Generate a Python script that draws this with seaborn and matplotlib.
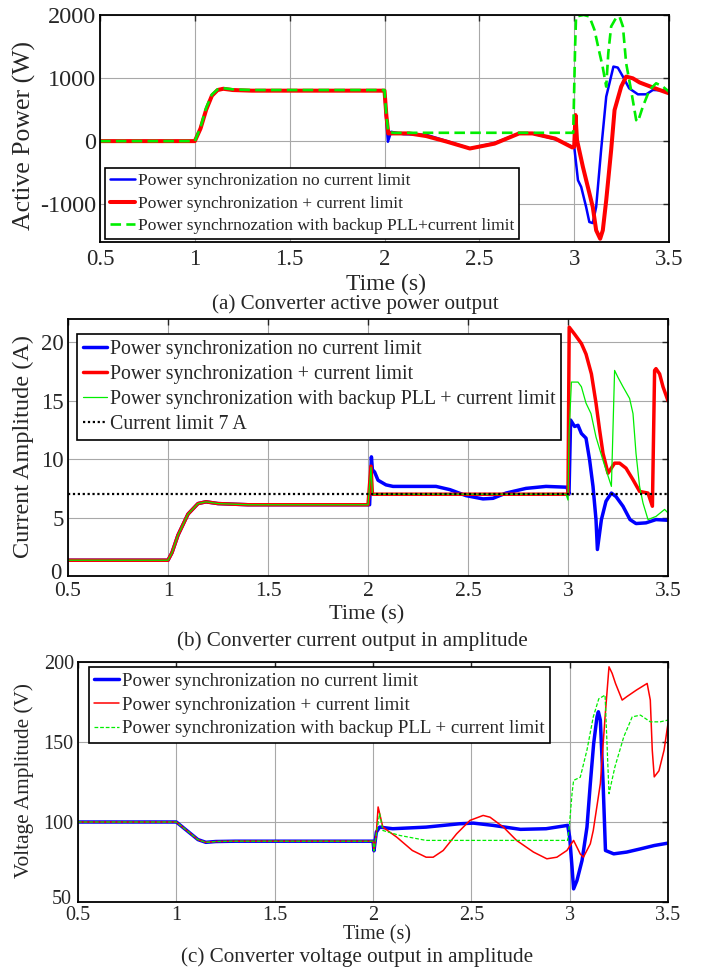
import matplotlib
matplotlib.use("Agg")
import matplotlib.pyplot as plt
import matplotlib.transforms as mtransforms
import seaborn as sns
import pandas as pd

# ---------------- (a) active power (W) ----------------
ta_blue = [0.5, 1.0, 1.03, 1.06, 1.09, 1.12, 1.15, 1.2, 1.3, 2.0, 2.005, 2.018, 2.035, 2.1, 2.22, 2.33,
           2.45, 2.58, 2.71, 2.78, 2.9, 2.99, 3.0, 3.02, 3.037, 3.063, 3.08, 3.098, 3.116, 3.142, 3.169,
           3.186, 3.207, 3.23, 3.257, 3.29, 3.336, 3.38, 3.415, 3.5]
pa_blue = [0, 0, 200, 500, 720, 810, 830, 810, 800, 800, 500, -10, 148, 110, 100, 0,
           -117, -30, 122, 122, 30, -90, -80, -620, -726, -1044, -1283, -1300, -1044, -143, 705,
           917, 1182, 1166, 1023, 837, 742, 742, 811, 800]

ta_red = [0.5, 1.0, 1.03, 1.06, 1.09, 1.12, 1.15, 1.2, 1.3, 2.0, 2.01, 2.02, 2.13, 2.22, 2.33, 2.45,
          2.58, 2.71, 2.78, 2.9, 2.99, 3.0, 3.007, 3.015, 3.046, 3.072, 3.098, 3.116, 3.137, 3.151,
          3.169, 3.195, 3.213, 3.248, 3.274, 3.309, 3.345, 3.38, 3.45, 3.5]
pa_red = [0, 0, 200, 500, 720, 810, 830, 810, 800, 800, 400, 122, 122, 80, -10, -117,
          -40, 122, 122, 40, -100, -90, 413, 16, -408, -726, -1044, -1415, -1548, -1415,
          -938, -143, 493, 864, 1023, 996, 930, 890, 811, 758]

ta_green = [0.5, 1.0, 1.03, 1.06, 1.09, 1.12, 1.15, 1.2, 1.3, 2.0, 2.01, 2.02, 2.05, 2.2, 2.5, 2.8,
            2.995, 3.005, 3.01, 3.05, 3.08, 3.107, 3.13, 3.15, 3.169, 3.18, 3.195, 3.22, 3.239, 3.257,
            3.274, 3.30, 3.327, 3.336, 3.362, 3.397, 3.432, 3.465, 3.5]
pa_green = [0, 0, 220, 530, 740, 820, 840, 820, 810, 810, 400, 148, 130, 132, 132, 132,
            132, 1500, 1977, 2000, 1977, 1765, 1447, 1182, 864, 1400, 1818, 1950, 1977, 1818,
            1235, 811, 334, 307, 546, 811, 917, 870, 784]

# ---------------- (b) current amplitude (A) ----------------
tb_blue = [0.5, 1.0, 1.02, 1.05, 1.1, 1.15, 1.19, 1.25, 1.4, 2.0, 2.008, 2.017, 2.022, 2.033, 2.05,
           2.09, 2.125, 2.29, 2.34, 2.41, 2.49, 2.575, 2.625, 2.69, 2.79, 2.89, 2.995, 3.005, 3.013,
           3.033, 3.05, 3.067, 3.09, 3.108, 3.125, 3.14, 3.147, 3.167, 3.19, 3.217, 3.24, 3.275,
           3.31, 3.34, 3.39, 3.44, 3.5]
ib_blue = [1.35, 1.35, 2.0, 3.5, 5.3, 6.2, 6.35, 6.2, 6.1, 6.1, 6.1, 10.2, 9.1, 8.9, 8.2,
           7.8, 7.67, 7.67, 7.67, 7.39, 6.88, 6.6, 6.65, 7.1, 7.5, 7.67, 7.6, 7.0, 13.35,
           12.8, 12.9, 12.2, 11.8, 9.94, 7.67, 4.83, 2.27, 4.83, 6.4, 7.1, 6.8, 5.97,
           4.83, 4.49, 4.55, 4.83, 4.77]

tb_red = [0.5, 1.0, 1.02, 1.05, 1.1, 1.15, 1.19, 1.25, 1.4, 2.0, 2.015, 2.022, 2.03, 2.04, 3.0,
          3.006, 3.033, 3.067, 3.09, 3.117, 3.14, 3.158, 3.175, 3.2, 3.233, 3.258, 3.29, 3.325,
          3.358, 3.4, 3.422, 3.433, 3.44, 3.458, 3.475, 3.5]
ib_red = [1.35, 1.35, 2.0, 3.5, 5.3, 6.2, 6.35, 6.2, 6.1, 6.1, 9.4, 7.0, 7.0, 7.0, 7.0,
          21.3, 20.7, 19.9, 19.0, 17.3, 14.8, 12.5, 10.5, 8.8, 9.66, 9.66, 9.23, 8.24,
          7.24, 7.1, 5.97, 17.6, 17.75, 17.3, 16.2, 15.0]

tb_green = [0.5, 1.0, 1.02, 1.05, 1.1, 1.15, 1.19, 1.25, 1.4, 2.0, 2.015, 2.022, 2.03, 2.99, 3.0,
            3.005, 3.017, 3.05, 3.067, 3.09, 3.115, 3.14, 3.175, 3.217, 3.233, 3.25, 3.275, 3.308,
            3.325, 3.34, 3.358, 3.375, 3.4, 3.44, 3.483, 3.5]
ib_green = [1.35, 1.35, 2.0, 3.5, 5.3, 6.2, 6.35, 6.2, 6.1, 6.1, 9.3, 7.0, 7.0, 7.0, 6.5,
            12.0, 16.6, 16.6, 16.2, 14.8, 13.9, 11.9, 9.9, 7.67, 17.6, 17.0, 16.2, 15.2,
            13.9, 10.5, 7.67, 6.25, 4.83, 5.1, 5.7, 5.4]

i_limit = 7.0

# ---------------- (c) voltage amplitude (V) ----------------
tc_blue = [0.5, 1.0, 1.03, 1.07, 1.11, 1.15, 1.2, 1.3, 2.0, 2.005, 2.017, 2.034, 2.1, 2.27, 2.44,
           2.51, 2.61, 2.75, 2.88, 2.99, 3.0, 3.012, 3.02, 3.037, 3.063, 3.088, 3.105, 3.122,
           3.139, 3.146, 3.156, 3.17, 3.182, 3.224, 3.29, 3.36, 3.43, 3.5]
vc_blue = [100, 100, 97, 93, 89, 87.3, 87.8, 88, 88, 82, 93.7, 96.8, 95.8, 96.8, 98.9,
           99.3, 97.9, 95.4, 95.8, 97.9, 90.6, 71.8, 58.2, 63.4, 76, 96.8, 124, 149,
           165.7, 168.9, 163.7, 124, 82.2, 80.1, 81.2, 83.2, 85.3, 86.8]

tc_red = [0.5, 1.0, 1.03, 1.07, 1.11, 1.15, 1.2, 1.3, 2.0, 2.005, 2.017, 2.026, 2.05, 2.12, 2.2,
          2.27, 2.306, 2.357, 2.425, 2.493, 2.56, 2.595, 2.663, 2.73, 2.816, 2.884, 2.935, 2.986,
          3.02, 3.054, 3.07, 3.105, 3.12, 3.156, 3.18, 3.2, 3.216, 3.233, 3.267, 3.29, 3.34,
          3.394, 3.41, 3.42, 3.43, 3.454, 3.48, 3.5]
vc_red = [100, 100, 97, 93, 89, 87.3, 87.8, 88, 88, 82, 93, 109.4, 96.8, 90.6, 82.2,
          78, 78, 82.2, 92.6, 101, 104.1, 103, 96.8, 88.5, 81.2, 77, 78, 82.2,
          88.5, 80, 78, 86.4, 94.7, 124, 165.7, 197, 192.9, 186.6, 176.2, 178.3, 182.5,
          186.6, 176.2, 144.9, 128.2, 132, 144.9, 161.6]

tc_green = [0.5, 1.0, 1.03, 1.07, 1.11, 1.15, 1.2, 1.3, 2.0, 2.005, 2.02, 2.034, 2.05, 2.136, 2.27,
            2.5, 2.8, 2.99, 3.0, 3.012, 3.02, 3.054, 3.088, 3.12, 3.148, 3.18, 3.2, 3.23, 3.275,
            3.318, 3.36, 3.41, 3.46, 3.5]
vc_green = [100, 100, 97, 93, 89, 87.3, 87.8, 88, 88, 82, 95, 105.2, 94.7, 91.6, 88.5,
            88.5, 88.5, 88.5, 100, 117.7, 126, 128, 145, 165.7, 177, 179.3, 117.7, 134.4, 153.2,
            165.7, 166.8, 162.6, 162.6, 163.7]

lab_blue = "Power synchronization no current limit"
lab_red = "Power synchronization + current limit"
lab_green_a = "Power synchrnozation with backup PLL+current limit"
lab_green = "Power synchronization with backup PLL + current limit"
lab_limit = "Current limit 7 A"

xticks = [0.5, 1, 1.5, 2, 2.5, 3, 3.5]
xticklabels = ["0.5", "1", "1.5", "2", "2.5", "3", "3.5"]

sns.set_style("white")
plt.rcParams["font.family"] = ["Liberation Serif", "DejaVu Serif"]

W, H = 710, 971
fig = plt.figure(figsize=(W / 100, H / 100), dpi=100)


def make_ax(left, top, right, bottom):
    return fig.add_axes([left / W, 1 - bottom / H, (right - left) / W, (bottom - top) / H])


def style_ax(ax, ylim, yticks, tsize, xpad, ypad):
    ax.set_xlim(0.5, 3.5)
    ax.set_ylim(*ylim)
    ax.set_xticks(xticks)
    ax.set_xticklabels(xticklabels)
    ax.set_yticks(yticks)
    ax.set_yticklabels([str(v) for v in yticks])
    ax.grid(True, color="#a8a8a8", lw=0.8)
    ax.set_axisbelow(True)
    ax.tick_params(direction="in", top=True, right=True, length=4, width=1, labelsize=tsize)
    ax.tick_params(axis="x", pad=xpad)
    ax.tick_params(axis="y", pad=ypad)
    for s in ax.spines.values():
        s.set_color("black")
        s.set_linewidth(1.3)
    ax.set_xlabel("")
    ax.set_ylabel("")


def lift_bottom_label(ax, dy_px, dx_px=0):
    # the lowest y tick label sits right on top of the first x tick label
    lab = ax.get_yticklabels()[0]
    off = mtransforms.ScaledTranslation(dx_px / 100, dy_px / 100, fig.dpi_scale_trans)
    lab.set_transform(lab.get_transform() + off)


def line(ax, t, v, **kw):
    df = pd.DataFrame({"t": t, "v": v})
    sns.lineplot(data=df, x="t", y="v", ax=ax, sort=False, estimator=None, **kw)


def legend(ax, x, y, size, spacing, hlen):
    leg = ax.legend(loc="upper left", bbox_to_anchor=(x, y), borderaxespad=0, fontsize=size,
                    frameon=True, fancybox=False, framealpha=1, edgecolor="black",
                    handlelength=hlen, handletextpad=0.15, labelspacing=spacing, borderpad=0.3)
    leg.get_frame().set_linewidth(1.2)
    return leg


# (a)
ax1 = make_ax(100, 15, 669, 242)
line(ax1, ta_blue, pa_blue, color="#0000ff", lw=1.8, label=lab_blue)
line(ax1, ta_red, pa_red, color="#ff0000", lw=2.9, label=lab_red)
line(ax1, ta_green, pa_green, color="#00ee00", lw=1.9, ls=(0, (4, 2)), label=lab_green_a)
style_ax(ax1, (-1600, 2000), [-1000, 0, 1000, 2000], 16.5, 5, 3)
ax1.tick_params(axis="y", labelsize=17.5)
legend(ax1, 0.008, 0.326, 12.5, 0.36, 1.45)
fig.text(24 / W, 1 - 135 / H, "Active Power (W)", rotation=90, ha="center", va="center", fontsize=18.5)
fig.text(386 / W, 1 - 284 / H, "Time (s)", ha="center", va="center", fontsize=17)
fig.text(355 / W, 1 - 304 / H, "(a) Converter active power output", ha="center", va="center", fontsize=15.2)

# (b)
ax2 = make_ax(68, 319, 668, 576)
line(ax2, tb_blue, ib_blue, color="#0000ff", lw=2.5, label=lab_blue)
line(ax2, tb_red, ib_red, color="#ff0000", lw=2.5, label=lab_red)
line(ax2, tb_green, ib_green, color="#00ee00", lw=0.9, label=lab_green)
ax2.axhline(i_limit, color="black", lw=1.6, ls=(0, (1, 1.2)), label=lab_limit)
style_ax(ax2, (0, 22), [0, 5, 10, 15, 20], 15.5, 4, 3)
ax2.tick_params(axis="y", labelsize=16.5)
lift_bottom_label(ax2, 5, -2)
legend(ax2, 0.015, 0.942, 14.3, 0.31, 1.2)
fig.text(23 / W, 1 - 446 / H, "Current Amplitude (A)", rotation=90, ha="center", va="center", fontsize=17.5)
fig.text(367 / W, 1 - 615 / H, "Time (s)", ha="center", va="center", fontsize=16)
fig.text(352 / W, 1 - 641 / H, "(b) Converter current output in amplitude", ha="center", va="center", fontsize=15.2)

# (c)
ax3 = make_ax(78, 662, 668, 902)
line(ax3, tc_blue, vc_blue, color="#0000ff", lw=2.5, label=lab_blue)
line(ax3, tc_red, vc_red, color="#ff0000", lw=1.1, label=lab_red)
line(ax3, tc_green, vc_green, color="#00ee00", lw=0.9, ls=(0, (3, 1.5)), label=lab_green)
style_ax(ax3, (50, 200), [50, 100, 150, 200], 14.5, 3, 3)
lift_bottom_label(ax3, 5, -2)
legend(ax3, 0.018, 0.979, 13.6, 0.34, 1.3)
fig.text(24 / W, 1 - 781 / H, "Voltage Amplitude (V)", rotation=90, ha="center", va="center", fontsize=15.3)
fig.text(377 / W, 1 - 935 / H, "Time (s)", ha="center", va="center", fontsize=14.5)
fig.text(357 / W, 1 - 957 / H, "(c) Converter voltage output in amplitude", ha="center", va="center", fontsize=15.2)

fig.savefig("out.png", dpi=100)
